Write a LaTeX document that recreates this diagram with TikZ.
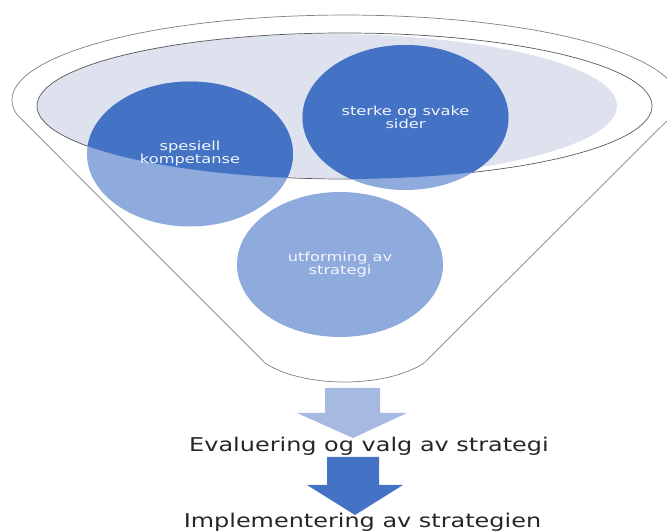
\documentclass[tikz,border=0pt]{standalone}
\usepackage{fontspec}
\setmainfont{DejaVu Sans}
\usetikzlibrary{positioning}
\definecolor{darkblue}{HTML}{4472C4}
\definecolor{lightblue}{HTML}{8FAADC}
\definecolor{paleblue}{HTML}{A6B9E0}
\definecolor{rimfill}{HTML}{DEE2EE}
\definecolor{rimline}{HTML}{5A5A5A}
\definecolor{textgray}{HTML}{262626}

\begin{document}
\begin{tikzpicture}[x=1pt, y=1pt,
		bubbletext/.style={align=center, inner sep=0pt, text=white!94!darkblue, xscale=1.3,
			font=\fontsize{12.5}{13}\selectfont},
		steptext/.style={anchor=base, inner sep=0pt, text=textgray, xscale=1.26,
			font=\fontsize{19}{23}\selectfont}]
				\useasboundingbox (0,0) rectangle (667,532);
				\clip (0,0) rectangle (667,532);

				% funnel
				\coordinate (rim) at (344.5,426);
				\coordinate (top) at (345,432);
				\coordinate (neck) at (344.5,192);
				\filldraw[fill=white, draw=gray, line width=0.7pt]
				(17.1,417.2) arc[start angle=190, end angle=-10, x radius=333, y radius=85]
				-- (424,169) arc[start angle=-33.2, end angle=-146.8, x radius=95, y radius=42]
				-- cycle;
				\fill[rimfill] (327,426) ellipse [x radius=290, y radius=72];
				\draw[rimline, line width=0.7pt] (rim) ellipse [x radius=307.5, y radius=73];

				% circles
				\coordinate (komp) at (190,378);
				\coordinate (sider) at (405.5,414.5);
				\coordinate (utform) at (340,267.5);
				\foreach \c in {komp, sider, utform}
				\fill[lightblue] (\c) ellipse [x radius=103, y radius=72.5];
				\begin{scope}
					\clip (rim) ellipse [x radius=307.5, y radius=73];
					\foreach \c in {komp, sider}
					\fill[darkblue] (\c) ellipse [x radius=103, y radius=72.5];
				\end{scope}

				\node[bubbletext] (K1) at (komp) {spesiell\\kompetanse};
				\node[bubbletext] (K2) at (sider) {sterke og svake\\sider};
				\node[bubbletext] (K3) at (utform) {utforming av\\strategi};

				% block arrows
				\fill[paleblue] (325,144) -- (380,144) -- (380,119) -- (407,119)
				-- (353,94) -- (297,119) -- (325,119) -- cycle;
				\fill[darkblue] (327,75) -- (379,75) -- (379,47) -- (403,47)
				-- (355,17) -- (307,47) -- (327,47) -- cycle;

				\node[steptext] (eval) at (369,80) {Evaluering og valg av strategi};
				\node[steptext] (impl) at (362.5,4) {Implementering av strategien};
			\end{tikzpicture}
\end{document}
